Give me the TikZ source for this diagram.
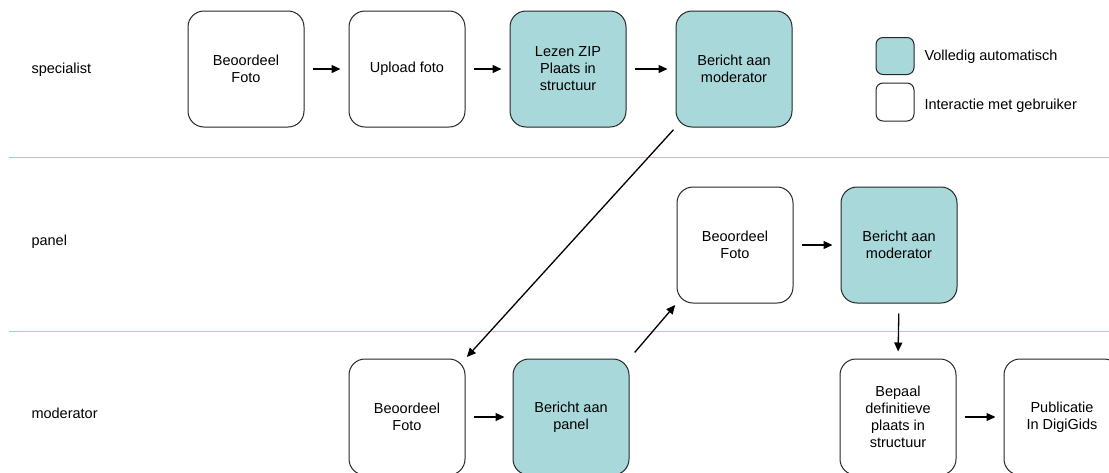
\documentclass[tikz,border=0pt]{standalone}
\usepackage{fontspec}
\setmainfont{Liberation Sans}
\usetikzlibrary{arrows.meta}

\begin{document}
\begin{tikzpicture}[x=1pt,y=-1pt,
    stap/.style={draw=black!85, line width=1pt, rounded corners=16pt, minimum width=116pt, minimum height=116pt, inner sep=0pt, align=center, font=\fontsize{14.5}{17}\selectfont},
    autostap/.style={stap, fill=automaat},
    pijl/.style={line width=1.3pt, -{Triangle[length=9pt,width=8pt]}},
    baan/.style={anchor=west, font=\fontsize{14.5}{17}\selectfont}]
        \definecolor{automaat}{RGB}{168,216,218}
        \definecolor{baanlijn}{RGB}{150,212,216}
        \useasboundingbox (0,0) rectangle (1109,472);
        \fill[white] (0,0) rectangle (1109,472);
        \clip (0,0) rectangle (1109,472);
        % banen
        \draw[baanlijn, line width=1pt] (9,157) -- (1109,157);
        \draw[baanlijn, line width=1pt] (9,331) -- (1109,331);
        \node[baan] (specialist) at (28,70) {specialist};
        \node[baan] (panel) at (28,242) {panel};
        \node[baan] (moderator) at (28,413) {moderator};
        % stappen
        \node[stap] (specfoto) at (246,69) {Beoordeel\\Foto};
        \node[stap] (upload) at (407,69) {Upload foto};
        \node[autostap] (zip) at (568,69) {Lezen ZIP\\Plaats in\\structuur};
        \node[autostap] (specbericht) at (734,69) {Bericht aan\\moderator};
        \node[stap] (panelfoto) at (735,245) {Beoordeel\\Foto};
        \node[autostap] (panelbericht) at (899,245) {Bericht aan\\moderator};
        \node[stap] (modfoto) at (407,417) {Beoordeel\\Foto};
        \node[autostap] (modbericht) at (571,417) {Bericht aan\\panel};
        \node[stap] (bepaal) at (898,417) {Bepaal\\definitieve\\plaats in\\structuur};
        \node[stap] (publicatie) at (1062,417) {Publicatie\\In DigiGids};
        % legenda
        \node[autostap, minimum width=38pt, minimum height=37pt, rounded corners=7pt] (legauto) at (895,56) {};
        \node[baan] (legautotekst) at (921,57) {Volledig automatisch};
        \node[stap, minimum width=38pt, minimum height=38pt, rounded corners=7pt] (legstap) at (895,102) {};
        \node[baan] (legstaptekst) at (921,106) {Interactie met gebruiker};
        % pijlen
        \draw[pijl, shorten <=8pt, shorten >=8pt] (specfoto) -- (upload);
        \draw[pijl, shorten <=8pt, shorten >=8pt] (upload) -- (zip);
        \draw[pijl, shorten <=8pt, shorten >=8pt] (zip) -- (specbericht);
        \draw[pijl, shorten <=3pt, shorten >=2pt] (specbericht.south west) -- (modfoto.north east);
        \draw[pijl, shorten <=8pt, shorten >=8pt] (modfoto) -- (modbericht);
        \draw[pijl, shorten <=8pt, shorten >=2pt] (modbericht.north east) -- (panelfoto.south west);
        \draw[pijl, shorten <=8pt, shorten >=8pt] (panelfoto) -- (panelbericht);
        \draw[pijl, shorten <=10pt, shorten >=7pt] (panelbericht.south) -- (bepaal.north);
        \draw[pijl, shorten <=8pt, shorten >=8pt] (bepaal) -- (publicatie);
    \end{tikzpicture}
\end{document}
